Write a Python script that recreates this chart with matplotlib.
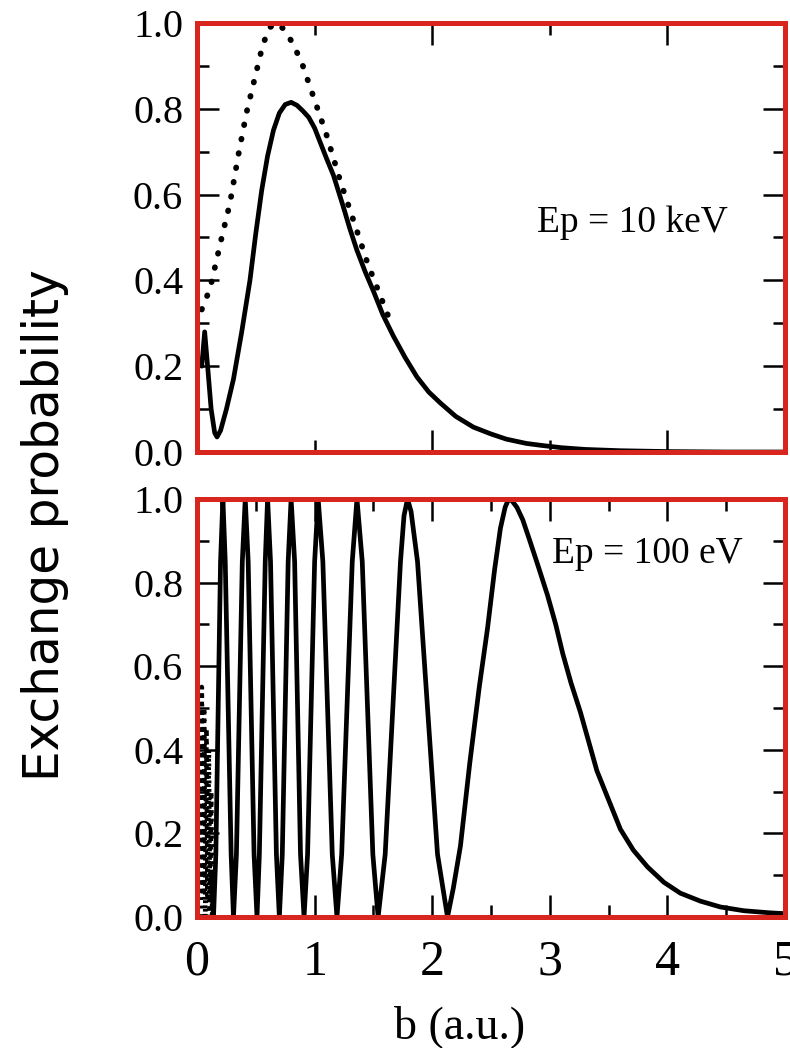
import matplotlib.pyplot as plt
from matplotlib.ticker import MultipleLocator

# Ep = 10 keV: full calculation (solid) and the simpler model (dotted)
b_10kev = [0.04, 0.065, 0.09, 0.12, 0.15, 0.17, 0.20, 0.25, 0.31, 0.38, 0.45,
           0.50, 0.55, 0.60, 0.65, 0.70, 0.75, 0.80, 0.85, 0.90, 0.95, 1.00,
           1.05, 1.10, 1.16, 1.24, 1.30, 1.36, 1.43, 1.50, 1.58, 1.67, 1.77,
           1.87, 1.97, 2.07, 2.20, 2.35, 2.50, 2.63, 2.80, 2.94, 3.10, 3.30,
           3.60, 4.00, 4.50, 5.00]
p_10kev = [0.20, 0.28, 0.20, 0.10, 0.045, 0.035, 0.05, 0.10, 0.17, 0.28, 0.40,
           0.51, 0.61, 0.69, 0.75, 0.79, 0.81, 0.815, 0.808, 0.795, 0.78, 0.755,
           0.72, 0.685, 0.645, 0.575, 0.52, 0.47, 0.42, 0.375, 0.32, 0.27, 0.22,
           0.175, 0.14, 0.114, 0.083, 0.058, 0.042, 0.03, 0.02, 0.015, 0.01,
           0.006, 0.003, 0.001, 0.0, 0.0]
b_10kev_dot = [0.0, 0.05, 0.11, 0.16, 0.21, 0.28, 0.35, 0.42, 0.49, 0.56, 0.62,
               0.68, 0.74, 0.82, 0.90, 1.00, 1.10, 1.22, 1.33, 1.45, 1.55, 1.65]
p_10kev_dot = [0.30, 0.34, 0.38, 0.44, 0.50, 0.58, 0.69, 0.79, 0.87, 0.95, 0.99,
               1.0, 0.985, 0.95, 0.90, 0.82, 0.74, 0.63, 0.54, 0.44, 0.37, 0.30]

# Ep = 100 eV: oscillating exchange probability
b_100ev = [0.12, 0.14, 0.16, 0.18, 0.20, 0.22, 0.24, 0.265, 0.29, 0.31,
           0.335, 0.36, 0.385, 0.41, 0.435, 0.46, 0.485, 0.51,
           0.53, 0.555, 0.58, 0.60, 0.625, 0.65, 0.675, 0.70,
           0.725, 0.75, 0.775, 0.80, 0.83, 0.855, 0.88, 0.91,
           0.94, 0.97, 1.00, 1.03, 1.07, 1.11, 1.15, 1.19,
           1.23, 1.275, 1.32, 1.36, 1.405, 1.45, 1.495, 1.54,
           1.60, 1.665, 1.73, 1.76, 1.79, 1.82, 1.875, 1.96, 2.045, 2.13,
           2.18, 2.24, 2.32, 2.40, 2.47, 2.53, 2.58, 2.62, 2.65, 2.68, 2.72,
           2.77, 2.83, 2.90, 2.98, 3.05, 3.11, 3.18, 3.26, 3.33, 3.40, 3.50,
           3.60, 3.71, 3.83, 3.97, 4.11, 4.28, 4.45, 4.65, 4.87, 5.00]
p_100ev = [0.10, 0.0, 0.15, 0.5, 0.85, 1.0, 0.85, 0.5, 0.15, 0.0,
           0.15, 0.5, 0.85, 1.0, 0.85, 0.5, 0.15, 0.0,
           0.15, 0.5, 0.85, 1.0, 0.85, 0.5, 0.15, 0.0,
           0.15, 0.5, 0.85, 1.0, 0.85, 0.5, 0.15, 0.0,
           0.15, 0.5, 0.85, 1.0, 0.85, 0.5, 0.15, 0.0,
           0.15, 0.5, 0.85, 1.0, 0.85, 0.5, 0.15, 0.0,
           0.15, 0.5, 0.85, 0.96, 1.0, 0.97, 0.85, 0.5, 0.15, 0.0,
           0.07, 0.17, 0.37, 0.55, 0.69, 0.83, 0.93, 0.98, 1.0, 0.995, 0.98,
           0.95, 0.90, 0.84, 0.77, 0.70, 0.63, 0.56, 0.49, 0.42, 0.35, 0.28,
           0.21, 0.16, 0.12, 0.083, 0.057, 0.038, 0.024, 0.015, 0.01, 0.008]
b_100ev_dot = [0.03, 0.04, 0.05, 0.06, 0.07, 0.08, 0.09, 0.10, 0.11, 0.12, 0.13]
p_100ev_dot = [0.0, 0.55, 0.05, 0.50, 0.0, 0.45, 0.05, 0.40, 0.0, 0.30, 0.0]

red = '#d8261f'
serif = 'Liberation Serif'

fig = plt.figure(figsize=(7.9, 10.48), dpi=100)
ax1 = fig.add_axes([0.2494, 0.5687, 0.7443, 0.4094])
ax2 = fig.add_axes([0.2494, 0.125, 0.7443, 0.3989])

ax1.plot(b_10kev, p_10kev, color='black', lw=3.4,
         solid_joinstyle='round', solid_capstyle='round')
ax1.plot(b_10kev_dot, p_10kev_dot, color='black', lw=4.2,
         linestyle=(0, (0.1, 2.4)), dash_capstyle='round')
ax2.plot(b_100ev, p_100ev, color='black', lw=3.4, solid_joinstyle='round')
ax2.plot(b_100ev_dot, p_100ev_dot, color='black', lw=3.4,
         linestyle=(0, (0.6, 1.2)))

for ax in (ax1, ax2):
    ax.set_xlim(0, 5)
    ax.set_ylim(0, 1.0)
    ax.yaxis.set_major_locator(MultipleLocator(0.2))
    ax.yaxis.set_minor_locator(MultipleLocator(0.1))
    ax.tick_params(which='both', direction='in', top=True, right=True,
                   width=1.8, color='black')
    ax.tick_params(which='major', length=16)
    ax.tick_params(which='minor', length=8.5)
    ax.tick_params(axis='y', labelsize=29, pad=10)
    for sp in ax.spines.values():
        sp.set_color(red)
        sp.set_linewidth(3.6)
        sp.set_zorder(3)
    for lab in ax.get_yticklabels():
        lab.set_family(serif)

ax1.xaxis.set_major_locator(MultipleLocator(2))
ax1.xaxis.set_minor_locator(MultipleLocator(1))
ax1.set_xticklabels([])

ax2.xaxis.set_major_locator(MultipleLocator(1))
ax2.xaxis.set_minor_locator(MultipleLocator(0.5))
ax2.tick_params(axis='x', labelsize=36, pad=16)
for lab in ax2.get_xticklabels():
    lab.set_family(serif)

ax1.text(2.89, 0.513, 'Ep = 10 keV', fontsize=27, family=serif)
ax2.text(3.02, 0.847, 'Ep = 100 eV', fontsize=27, family=serif)

fig.text(460 / 790, 1 - 1027 / 1048, 'b (a.u.)', ha='center', va='center',
         fontsize=33, family=serif)
fig.text(45 / 790, 1 - 525 / 1048, 'Exchange probability', rotation=90,
         ha='center', va='center', fontsize=35, family='DejaVu Sans')

fig.savefig('out.png', dpi=100)
